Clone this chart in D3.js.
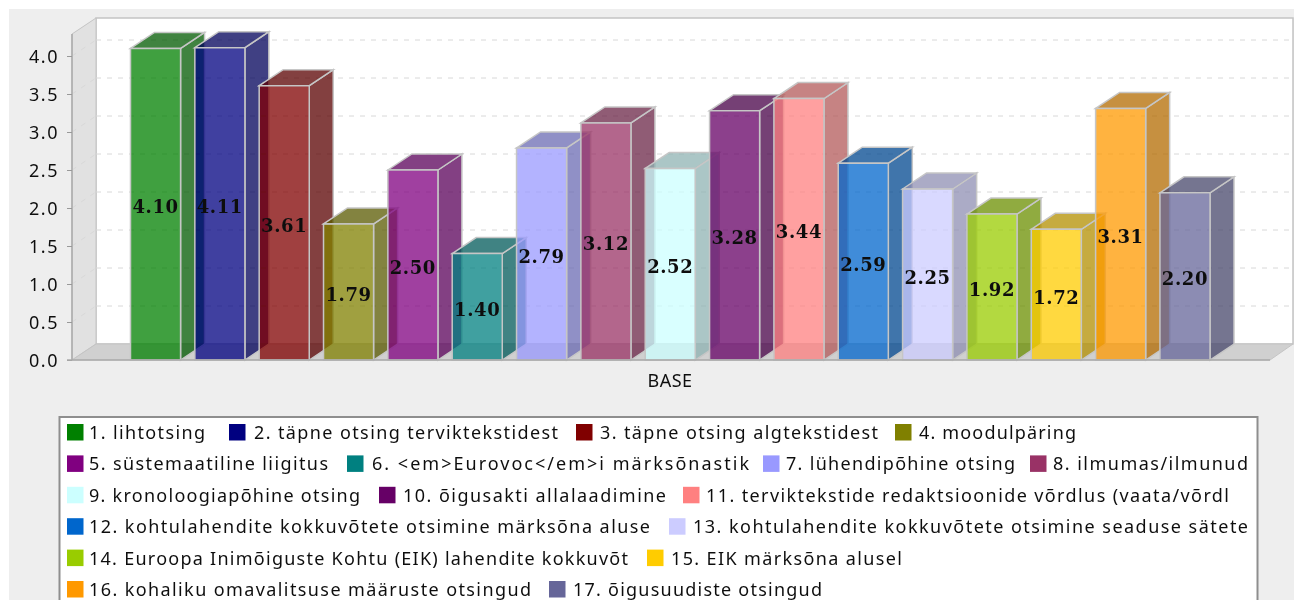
<!DOCTYPE html>
<html><head><meta charset="utf-8">
<script src="https://cdn.jsdelivr.net/npm/d3@7"></script>
<style>html,body{margin:0;padding:0;background:#fff;overflow:hidden}svg{display:block}</style>
</head><body><svg id="c" width="1294" height="600"></svg>
<script>
const labels=["1. lihtotsing","2. täpne otsing terviktekstidest","3. täpne otsing algtekstidest","4. moodulpäring","5. süstemaatiline liigitus","6. <em>Eurovoc</em>i märksõnastik","7. lühendipõhine otsing","8. ilmumas/ilmunud","9. kronoloogiapõhine otsing","10. õigusakti allalaadimine","11. terviktekstide redaktsioonide võrdlus (vaata/võrdl","12. kohtulahendite kokkuvõtete otsimine märksõna aluse","13. kohtulahendite kokkuvõtete otsimine seaduse sätete","14. Euroopa Inimõiguste Kohtu (EIK) lahendite kokkuvõt","15. EIK märksõna alusel","16. kohaliku omavalitsuse määruste otsingud","17. õigusuudiste otsingud"];
const values=[4.10,4.11,3.61,1.79,2.50,1.40,2.79,3.12,2.52,3.28,3.44,2.59,2.25,1.92,1.72,3.31,2.20];
const colors=["#008000","#000080","#800000","#808000","#800080","#008080","#9999ff","#993366","#ccffff","#660066","#ff8080","#0066cc","#ccccff","#99cc00","#ffcc00","#ff9900","#666699"];
const ticks=[0,0.5,1,1.5,2,2.5,3,3.5,4];
const category=["BASE"];
const legendRows=[[0,1,2,3],[4,5,6,7],[8,9,10],[11,12],[13,14],[15,16]];
// legend flow layout, measured per item
const legendSwatchX=[67,229,576,895,67,347,763,1030,67,379,683,67,669,67,647,67,549];
const legendTextX=[89,254,600,919,89,372,786,1053,89,403,706,89,693,89,671,89,573];
const legendTextEnd=[205,558,878,1076,328,749,1015,1248,360,666,1229,650,1248,628,902,531,822];

const svg=d3.select("#c");
const flt=svg.append("defs").append("filter").attr("id","soft").attr("filterUnits","userSpaceOnUse").attr("x",0).attr("y",0).attr("width",1294).attr("height",600);
flt.append("feGaussianBlur").attr("stdDeviation",0.6);
const root=svg.append("g").attr("filter","url(#soft)");
const dx=24,dy=-16,base=360;
const y=d3.scaleLinear().domain([0,4]).range([base,56]);
const x=d3.scaleBand().domain(labels).range([130.5,1210]).paddingInner(0.222).paddingOuter(0);
const poly=p=>p.map(d=>d.join(",")).join(" ");
root.append("rect").attr("x",9).attr("y",9).attr("width",1285).attr("height",591).attr("fill","#eeeeee");
const L=72,R=1270,T=34;
root.append("polygon").attr("points",poly([[L+dx,T+dy],[R+dx-1,T+dy],[R+dx-1,base+dy],[L+dx,base+dy]])).attr("fill","#fff").attr("stroke","#c4c4c4").attr("stroke-width",1.5);
root.append("polygon").attr("points",poly([[L,T],[L+dx,T+dy],[L+dx,base+dy],[L,base]])).attr("fill","#e1e1e1").attr("stroke","#c4c4c4");
root.append("polygon").attr("points",poly([[L,base],[L+dx,base+dy],[R+dx-1,base+dy],[R,base]])).attr("fill","#d0d0d0").attr("stroke","#c4c4c4");
const g=root.append("g");
ticks.filter(t=>t>0).forEach(t=>{
  g.append("line").attr("x1",L+dx).attr("x2",R+dx-1).attr("y1",y(t)+dy).attr("y2",y(t)+dy).attr("stroke","#d8d8d8").attr("stroke-dasharray","5 6");
  g.append("line").attr("x1",L).attr("x2",L+dx).attr("y1",y(t)).attr("y2",y(t)+dy).attr("stroke","#d8d8d8").attr("stroke-dasharray","5 6");
});
const bars=root.append("g").selectAll("g").data(labels.map((l,i)=>({l,v:values[i],c:colors[i]}))).join("g");
const edge={stroke:"#c6c6c6","stroke-width":1.5,"stroke-linejoin":"miter"};
bars.each(function(d){
  const s=d3.select(this),x0=x(d.l),x1=x0+x.bandwidth(),yt=y(d.v);
  const col=d3.rgb(d.c);const dk=d3.rgb(col.r*.7,col.g*.7,col.b*.7);
  const add=(pts,f)=>{const p=s.append("polygon").attr("points",poly(pts)).attr("fill",f).attr("fill-opacity",.75);Object.entries(edge).forEach(([k,v])=>p.attr(k,v));};
  add([[x1,yt],[x1+dx,yt+dy],[x1+dx,base+dy],[x1,base]],dk);
  add([[x0,yt],[x0+dx,yt+dy],[x1+dx,yt+dy],[x1,yt]],dk);
  add([[x0,yt],[x1,yt],[x1,base],[x0,base]],d.c);
});
root.append("g").selectAll("text").data(labels.map((l,i)=>({l,v:values[i]}))).join("text")
  .attr("x",d=>x(d.l)+x.bandwidth()/2).attr("y",d=>(y(d.v)+base)/2+9)
  .attr("text-anchor","middle").attr("font-family","DejaVu Serif").attr("font-weight","bold").attr("font-size",18).attr("letter-spacing",0.6).attr("fill","#111")
  .text(d=>d.v.toFixed(2));
const axis=d3.axisLeft(y).tickValues(ticks).tickFormat(d3.format(".1f")).tickSize(5).tickPadding(8);
const ag=root.append("g").attr("transform",`translate(${L},0)`).call(axis);
ag.select(".domain").attr("stroke","#aaa").attr("stroke-width",1.5).attr("d",`M0,${T}V${base}`);
ag.selectAll(".tick line").attr("stroke","#999");
ag.selectAll("text").attr("font-family","Noto Sans").attr("font-size",18).attr("letter-spacing",1.5).attr("fill","#111").attr("dy","0.36em");
root.append("line").attr("x1",L-5).attr("x2",R).attr("y1",base).attr("y2",base).attr("stroke","#aaa").attr("stroke-width",1.5);
root.append("text").attr("x",670).attr("y",387).attr("text-anchor","middle").attr("font-family","Noto Sans").attr("font-size",18).attr("letter-spacing",0.5).attr("fill","#111").text(category[0]);
root.append("rect").attr("x",59.5).attr("y",417).attr("width",1198).attr("height",200).attr("fill","#fff").attr("stroke","#8e8e8e").attr("stroke-width",2);
const rowY=d3.scaleLinear().domain([0,5]).range([432,589]);
legendRows.forEach((row,r)=>{
  row.forEach(i=>{
    root.append("rect").attr("x",legendSwatchX[i]).attr("y",rowY(r)-8).attr("width",16.5).attr("height",16.5).attr("fill",colors[i]);
    root.append("text").attr("x",legendTextX[i]).attr("y",rowY(r)+7).attr("font-family","Noto Sans").attr("font-size",18).attr("fill","#111")
      .attr("textLength",legendTextEnd[i]-legendTextX[i]).attr("lengthAdjust","spacing").text(labels[i]);
  });
});
</script></body></html>
